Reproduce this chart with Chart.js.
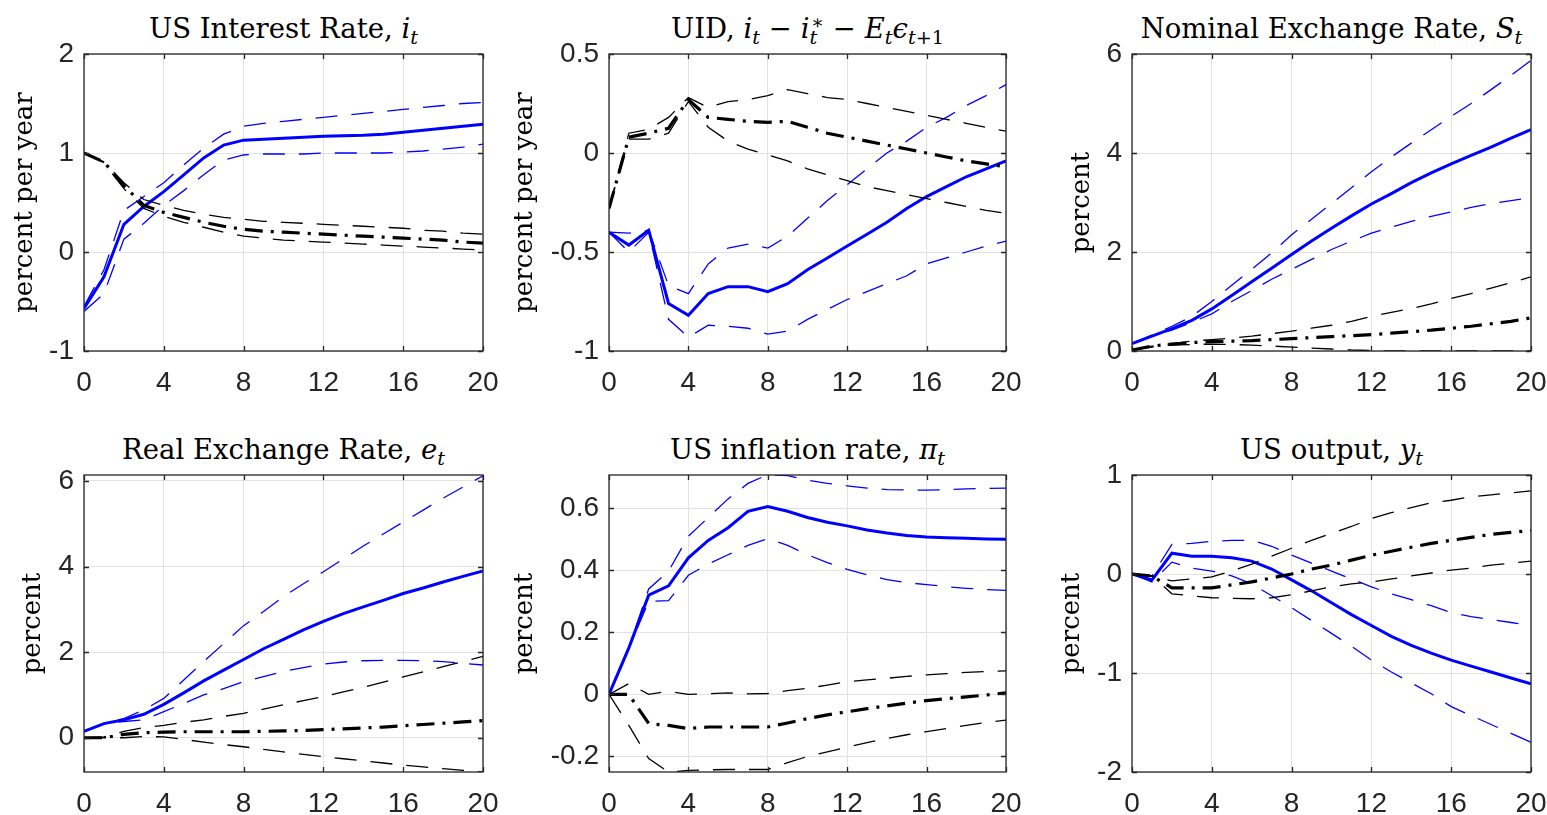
<!DOCTYPE html>
<html>
<head>
<meta charset="utf-8">
<script src="https://cdn.jsdelivr.net/npm/chart.js@4.4.1/dist/chart.umd.min.js"></script>
<style>
html,body{margin:0;padding:0;background:#fff;width:1547px;height:815px;overflow:hidden;position:relative}
.ttl{position:absolute;font-family:"DejaVu Serif",serif;font-size:27.5px;line-height:26px;color:#000;white-space:nowrap;transform:translateX(-50%)}
.ttl sub{vertical-align:baseline;position:relative;top:0.32em;font-size:0.7em}
.ttl sup{vertical-align:baseline;position:relative;top:-0.45em;font-size:0.7em}
.ttl sup.b{margin-left:-0.32em}
canvas{position:absolute}
</style>
</head>
<body>
<script>
// ---- data ----
const horizon = [0,1,2,3,4,5,6,7,8,9,10,11,12,13,14,15,16,17,18,19,20];
const xTicks = [0,4,8,12,16,20];

const p1YTicks = [-1,0,1,2];
const p2YTicks = [-1,-0.5,0,0.5];
const p3YTicks = [0,2,4,6];
const p4YTicks = [0,2,4,6];
const p5YTicks = [-0.2,0,0.2,0.4,0.6];
const p6YTicks = [-2,-1,0,1];

// US Interest Rate
const p1BlueMid  = [-0.57,-0.25,0.28,0.46,0.61,0.78,0.95,1.08,1.13,1.14,1.15,1.16,1.17,1.175,1.18,1.19,1.21,1.23,1.25,1.27,1.29];
const p1BlueHi   = [-0.55,-0.18,0.42,0.56,0.70,0.88,1.05,1.19,1.27,1.30,1.32,1.34,1.36,1.38,1.40,1.42,1.44,1.46,1.48,1.50,1.51];
const p1BlueLo   = [-0.60,-0.42,0.13,0.29,0.47,0.62,0.78,0.93,0.98,0.99,0.99,0.99,1.00,1.00,1.00,1.00,1.01,1.02,1.04,1.06,1.09];
const p1BlackMid = [1.00,0.91,0.67,0.47,0.40,0.35,0.30,0.26,0.23,0.21,0.20,0.19,0.18,0.17,0.16,0.15,0.14,0.13,0.12,0.10,0.09];
const p1BlackHi  = [1.00,0.91,0.70,0.53,0.47,0.42,0.38,0.35,0.33,0.31,0.30,0.29,0.28,0.27,0.26,0.25,0.24,0.22,0.21,0.19,0.18];
const p1BlackLo  = [1.00,0.90,0.64,0.44,0.36,0.30,0.25,0.20,0.16,0.14,0.12,0.11,0.10,0.09,0.08,0.07,0.06,0.05,0.04,0.03,0.02];

// UID
const p2BlueMid  = [-0.40,-0.465,-0.39,-0.76,-0.82,-0.71,-0.675,-0.675,-0.70,-0.66,-0.59,-0.53,-0.47,-0.41,-0.35,-0.28,-0.22,-0.17,-0.12,-0.08,-0.04];
const p2BlueHi   = [-0.40,-0.405,-0.39,-0.67,-0.71,-0.56,-0.48,-0.46,-0.48,-0.42,-0.33,-0.24,-0.16,-0.08,0.00,0.06,0.13,0.18,0.24,0.29,0.345];
const p2BlueLo   = [-0.40,-0.50,-0.40,-0.84,-0.93,-0.87,-0.875,-0.885,-0.915,-0.90,-0.84,-0.79,-0.74,-0.70,-0.66,-0.62,-0.56,-0.53,-0.50,-0.47,-0.445];
const p2BlackMid = [-0.28,0.08,0.10,0.125,0.27,0.18,0.17,0.16,0.155,0.16,0.13,0.10,0.08,0.06,0.04,0.02,0.00,-0.02,-0.04,-0.055,-0.07];
const p2BlackHi  = [-0.28,0.10,0.12,0.18,0.28,0.23,0.26,0.27,0.29,0.32,0.30,0.28,0.27,0.25,0.23,0.21,0.19,0.17,0.15,0.13,0.11];
const p2BlackLo  = [-0.28,0.07,0.07,0.10,0.26,0.13,0.06,0.02,-0.01,-0.04,-0.08,-0.11,-0.14,-0.17,-0.19,-0.21,-0.23,-0.25,-0.27,-0.29,-0.305];

// Nominal Exchange Rate
const p3BlueMid  = [0.15,0.30,0.45,0.62,0.85,1.12,1.40,1.67,1.95,2.22,2.48,2.73,2.97,3.18,3.40,3.60,3.78,3.95,4.12,4.30,4.47];
const p3BlueHi   = [0.15,0.32,0.50,0.70,1.00,1.33,1.65,1.98,2.35,2.66,2.98,3.30,3.62,3.92,4.20,4.47,4.74,5.00,5.28,5.57,5.87];
const p3BlueLo   = [0.15,0.30,0.42,0.58,0.75,1.00,1.22,1.45,1.65,1.85,2.05,2.22,2.38,2.50,2.62,2.72,2.81,2.90,2.98,3.04,3.10];
const p3BlackMid = [0.02,0.10,0.14,0.17,0.19,0.20,0.21,0.23,0.25,0.27,0.29,0.31,0.33,0.36,0.39,0.42,0.46,0.50,0.55,0.60,0.67];
const p3BlackHi  = [0.02,0.10,0.15,0.20,0.23,0.26,0.30,0.35,0.40,0.46,0.52,0.60,0.70,0.78,0.86,0.95,1.06,1.16,1.27,1.38,1.50];
const p3BlackLo  = [0.02,0.08,0.12,0.13,0.14,0.13,0.12,0.10,0.08,0.06,0.04,0.02,0.01,0.00,0.00,0.00,0.00,0.00,0.00,0.00,0.00];

// Real Exchange Rate
const p4BlueMid  = [0.15,0.33,0.42,0.55,0.78,1.05,1.33,1.58,1.83,2.08,2.30,2.52,2.72,2.90,3.06,3.21,3.37,3.50,3.64,3.77,3.90];
const p4BlueHi   = [0.15,0.33,0.45,0.65,0.92,1.35,1.78,2.20,2.62,2.95,3.30,3.60,3.88,4.18,4.48,4.76,5.04,5.32,5.60,5.86,6.12];
const p4BlueLo   = [0.15,0.33,0.38,0.42,0.61,0.80,1.00,1.15,1.31,1.43,1.55,1.64,1.72,1.77,1.80,1.81,1.81,1.80,1.78,1.74,1.70];
const p4BlackMid = [0.00,0.00,0.08,0.12,0.13,0.14,0.14,0.14,0.14,0.15,0.16,0.17,0.19,0.21,0.23,0.25,0.28,0.31,0.34,0.37,0.40];
const p4BlackHi  = [0.00,0.02,0.15,0.24,0.29,0.36,0.42,0.50,0.57,0.67,0.77,0.87,0.96,1.07,1.18,1.30,1.42,1.54,1.66,1.78,1.90];
const p4BlackLo  = [0.00,0.00,0.00,0.03,0.02,-0.04,-0.10,-0.16,-0.21,-0.27,-0.33,-0.39,-0.44,-0.49,-0.54,-0.59,-0.64,-0.68,-0.72,-0.76,-0.80];

// US inflation rate
const p5BlueMid  = [0.00,0.15,0.32,0.35,0.44,0.496,0.537,0.59,0.605,0.59,0.57,0.555,0.543,0.53,0.52,0.512,0.507,0.505,0.503,0.501,0.50];
const p5BlueHi   = [0.00,0.15,0.34,0.397,0.51,0.57,0.63,0.68,0.708,0.705,0.69,0.68,0.672,0.665,0.66,0.659,0.658,0.66,0.662,0.664,0.665];
const p5BlueLo   = [0.00,0.15,0.30,0.302,0.384,0.42,0.45,0.48,0.502,0.48,0.45,0.425,0.403,0.385,0.37,0.36,0.354,0.347,0.342,0.338,0.335];
const p5BlackMid = [0.00,0.00,-0.094,-0.10,-0.11,-0.105,-0.105,-0.105,-0.105,-0.092,-0.078,-0.066,-0.056,-0.046,-0.037,-0.028,-0.02,-0.014,-0.008,-0.002,0.005];
const p5BlackHi  = [0.00,0.035,0.00,0.01,0.00,0.002,0.005,0.002,0.003,0.012,0.02,0.03,0.041,0.047,0.052,0.058,0.063,0.067,0.071,0.074,0.076];
const p5BlackLo  = [0.00,-0.10,-0.207,-0.25,-0.245,-0.243,-0.242,-0.242,-0.242,-0.22,-0.20,-0.185,-0.17,-0.155,-0.142,-0.13,-0.12,-0.11,-0.10,-0.09,-0.083];

// US output
const p6BlueMid  = [0.00,-0.06,0.21,0.18,0.18,0.165,0.13,0.05,-0.06,-0.17,-0.29,-0.41,-0.52,-0.63,-0.72,-0.80,-0.87,-0.93,-0.99,-1.05,-1.11];
const p6BlueHi   = [0.00,-0.02,0.30,0.31,0.33,0.34,0.34,0.28,0.19,0.11,0.03,-0.05,-0.13,-0.20,-0.26,-0.32,-0.39,-0.43,-0.46,-0.49,-0.52];
const p6BlueLo   = [0.00,-0.08,0.12,0.06,0.03,-0.02,-0.10,-0.22,-0.34,-0.47,-0.60,-0.73,-0.87,-0.99,-1.10,-1.21,-1.34,-1.43,-1.52,-1.61,-1.70];
const p6BlackMid = [0.00,-0.02,-0.14,-0.14,-0.14,-0.11,-0.08,-0.04,0.00,0.05,0.09,0.14,0.19,0.23,0.27,0.31,0.34,0.37,0.40,0.42,0.44];
const p6BlackHi  = [0.00,-0.02,-0.07,-0.05,-0.03,0.03,0.10,0.18,0.26,0.34,0.41,0.48,0.56,0.62,0.67,0.72,0.745,0.78,0.80,0.82,0.84];
const p6BlackLo  = [0.00,-0.02,-0.20,-0.22,-0.24,-0.245,-0.25,-0.24,-0.21,-0.17,-0.13,-0.10,-0.08,-0.05,-0.02,0.01,0.04,0.06,0.09,0.11,0.13];

// ---- panels ----
const panels = [
  {title:'US Interest Rate, <i>i</i><sub><i>t</i></sub>', yLabel:'percent per year', yMin:-1, yMax:2, yTicks:p1YTicks,
   area:[84,54,483,351], labelX:25, s:[p1BlueMid,p1BlueHi,p1BlueLo,p1BlackMid,p1BlackHi,p1BlackLo]},
  {title:'UID, <i>i</i><sub><i>t</i></sub> &minus; <i>i</i><sub><i>t</i></sub><sup class="b">&lowast;</sup> &minus; <i>E</i><sub><i>t</i></sub><i>&#x03F5;</i><sub><i>t</i>+1</sub>', yLabel:'percent per year', yMin:-1, yMax:0.5, yTicks:p2YTicks,
   area:[609,54,1006,351], labelX:525, s:[p2BlueMid,p2BlueHi,p2BlueLo,p2BlackMid,p2BlackHi,p2BlackLo]},
  {title:'Nominal Exchange Rate, <i>S</i><sub><i>t</i></sub>', yLabel:'percent', yMin:0, yMax:6, yTicks:p3YTicks,
   area:[1132,54,1531,351], labelX:1082, s:[p3BlueMid,p3BlueHi,p3BlueLo,p3BlackMid,p3BlackHi,p3BlackLo]},
  {title:'Real Exchange Rate, <i>e</i><sub><i>t</i></sub>', yLabel:'percent', yMin:-0.8, yMax:6.14, yTicks:p4YTicks,
   area:[84,475,483,772], labelX:33, s:[p4BlueMid,p4BlueHi,p4BlueLo,p4BlackMid,p4BlackHi,p4BlackLo]},
  {title:'US inflation rate, <i>&pi;</i><sub><i>t</i></sub>', yLabel:'percent', yMin:-0.25, yMax:0.707, yTicks:p5YTicks,
   area:[609,475,1006,772], labelX:525, s:[p5BlueMid,p5BlueHi,p5BlueLo,p5BlackMid,p5BlackHi,p5BlackLo]},
  {title:'US output, <i>y</i><sub><i>t</i></sub>', yLabel:'percent', yMin:-2, yMax:1, yTicks:p6YTicks,
   area:[1132,475,1531,772], labelX:1072, s:[p6BlueMid,p6BlueHi,p6BlueLo,p6BlackMid,p6BlackHi,p6BlackLo]}
];

const styles = [
  {borderColor:'#0000ff', borderWidth:3,   borderDash:[]},
  {borderColor:'#0000ff', borderWidth:1.3, borderDash:[22,14]},
  {borderColor:'#0000ff', borderWidth:1.3, borderDash:[22,14]},
  {borderColor:'#000000', borderWidth:3.2, borderDash:[18,8,3,8]},
  {borderColor:'#000000', borderWidth:1.3, borderDash:[22,14]},
  {borderColor:'#000000', borderWidth:1.3, borderDash:[22,14]}
];

const boxPlugin = {
  id:'box',
  afterDatasetsDraw(chart){
    const {ctx, chartArea:a, scales} = chart;
    ctx.save();
    ctx.strokeStyle = '#262626';
    ctx.lineWidth = 1.3;
    ctx.beginPath();
    const tl = 5;
    scales.x.ticks.forEach(t => {
      const px = Math.round(scales.x.getPixelForValue(t.value)) + 0.5;
      ctx.moveTo(px, a.bottom); ctx.lineTo(px, a.bottom - tl);
      ctx.moveTo(px, a.top); ctx.lineTo(px, a.top + tl);
    });
    scales.y.ticks.forEach(t => {
      const py = Math.round(scales.y.getPixelForValue(t.value)) + 0.5;
      ctx.moveTo(a.left, py); ctx.lineTo(a.left + tl, py);
      ctx.moveTo(a.right, py); ctx.lineTo(a.right - tl, py);
    });
    ctx.stroke();
    ctx.strokeRect(a.left, a.top, a.right - a.left, a.bottom - a.top);
    ctx.restore();
  }
};

function zeroPad(s){ s.paddingTop = 0; s.paddingBottom = 0; s.paddingLeft = 0; s.paddingRight = 0; }

const PADT = 18, PADR = 22, XH = 52;
panels.forEach(p => {
  const [L,T,R,B] = p.area;
  const left = p.labelX - 13;
  const top = T - PADT;
  const w = R - left + PADR;
  const h = PADT + (B - T) + XH;
  const yw = L - left;

  const t = document.createElement('div');
  t.className = 'ttl';
  t.innerHTML = p.title;
  t.style.left = ((L + R) / 2) + 'px';
  t.style.top = (T - 39) + 'px';
  document.body.appendChild(t);

  const c = document.createElement('canvas');
  c.width = w; c.height = h;
  c.style.left = left + 'px'; c.style.top = top + 'px';
  c.style.width = w + 'px'; c.style.height = h + 'px';
  document.body.appendChild(c);

  new Chart(c, {
    type:'line',
    data:{
      labels: horizon,
      datasets: p.s.map((d,i) => Object.assign({data:d, pointRadius:0, tension:0, fill:false}, styles[i])).reverse()
    },
    options:{
      responsive:false, animation:false, devicePixelRatio:1,
      layout:{padding:{top:PADT, right:PADR, left:0, bottom:0}},
      plugins:{legend:{display:false}, tooltip:{enabled:false}, title:{display:false}},
      scales:{
        x:{
          type:'linear', min:0, max:20,
          afterBuildTicks: s => { s.ticks = xTicks.map(v => ({value:v})); },
          afterFit: s => { s.height = XH; zeroPad(s); },
          grid:{color:'#e2e2e2', lineWidth:1, drawTicks:false},
          border:{display:false},
          ticks:{padding:15, color:'#262626', font:{family:'Liberation Sans', size:28}, maxRotation:0, autoSkip:false, callback: v => String(v)}
        },
        y:{
          type:'linear', min:p.yMin, max:p.yMax,
          afterBuildTicks: s => { s.ticks = p.yTicks.map(v => ({value:v})); },
          afterFit: s => { s.width = yw; zeroPad(s); },
          grid:{color:'#e2e2e2', lineWidth:1, drawTicks:false},
          border:{display:false},
          ticks:{padding:10, color:'#262626', font:{family:'Liberation Sans', size:28}, autoSkip:false, callback: v => String(v)},
          title:{display:true, text:p.yLabel, color:'#000', padding:0, font:{family:'DejaVu Serif', size:26, lineHeight:1}}
        }
      }
    },
    plugins:[boxPlugin]
  });
});
</script>
</body>
</html>
